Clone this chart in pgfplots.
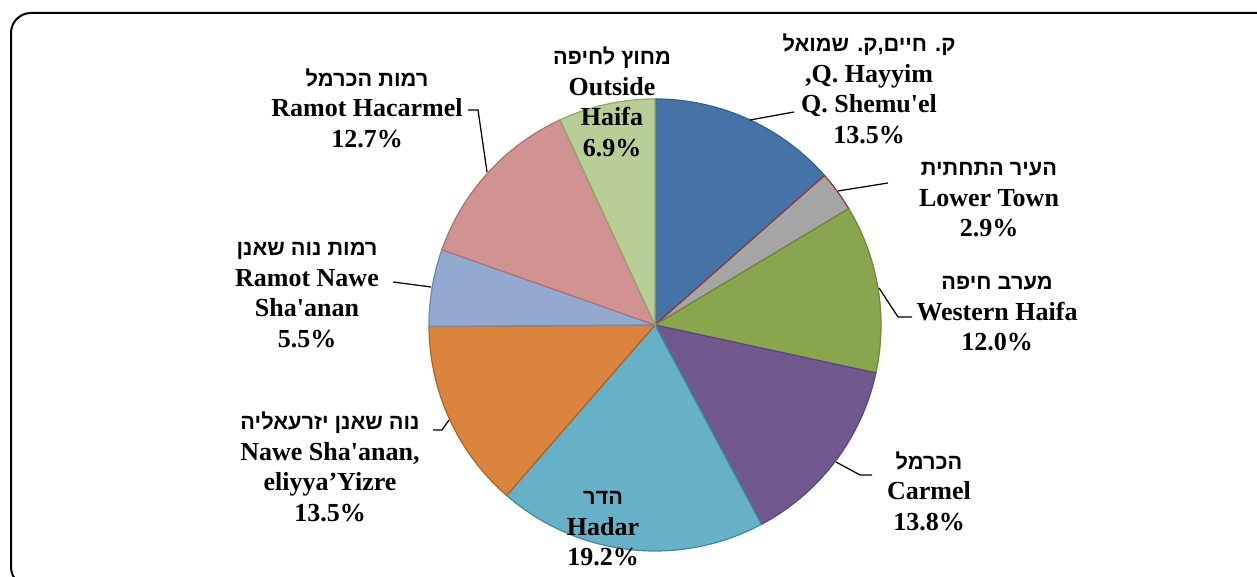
\documentclass[border=0pt]{standalone}
\usepackage{pgfplots}
\pgfplotsset{compat=1.18}
\usepackage{fontspec}
\setmainfont{Liberation Serif}[Ligatures=TeXOff]
\newfontfamily\hebfont[Script=Hebrew]{Liberation Sans}
\TeXXeTstate=1
\definecolor{cA}{HTML}{4673A7}
\definecolor{cB}{HTML}{A5A5A5}
\definecolor{cC}{HTML}{89A54E}
\definecolor{cD}{HTML}{71588F}
\definecolor{cE}{HTML}{66B1C8}
\definecolor{cF}{HTML}{DB843D}
\definecolor{cG}{HTML}{93A9CF}
\definecolor{cH}{HTML}{D19392}
\definecolor{cI}{HTML}{B9CD96}
\definecolor{bA}{HTML}{3A5F8C}
\definecolor{bB}{HTML}{8E3A3A}
\definecolor{bC}{HTML}{6E8A3A}
\definecolor{bD}{HTML}{5C4775}
\definecolor{bE}{HTML}{3F8BA4}
\definecolor{bF}{HTML}{B46322}
\definecolor{bG}{HTML}{7088B3}
\definecolor{bH}{HTML}{B07170}
\definecolor{bI}{HTML}{8FA86A}
\newcommand{\heb}[1]{{\hebfont\bfseries\fontsize{8.7}{12.2}\selectfont\beginR #1\endR}}
\tikzset{lbl/.style={font=\fontsize{10.4}{12.2}\selectfont\bfseries, align=center, inner sep=0pt}}
\begin{document}
\begin{tikzpicture}
\begin{axis}[x=0.4pt, y=0.4pt, xmin=0, xmax=1257, ymin=0, ymax=577,
  hide axis, clip=true]
% slice shares (%), clockwise from the top
\foreach \p/\c/\b [remember=\en as \st (initially 90)] in
  {13.5/cA/bA, 2.9/cB/bB, 12.0/cC/bC, 13.8/cD/bD, 19.2/cE/bE, 13.5/cF/bF, 5.5/cG/bG, 12.7/cH/bH, 6.9/cI/bI}{
  \pgfmathsetmacro\en{\st-3.6*\p}
  \edef\temp{\noexpand\addplot[fill=\c, draw=\b, line width=0.5pt, domain=\en:\st, samples=80, smooth]
    ({655+226*cos(x)},{252+226*sin(x)}) -- (axis cs:655,252) -- cycle;}
  \temp
}
% leader lines
\draw[line width=0.5pt] (axis cs:750,457) -- (axis cs:794,465);
\draw[line width=0.5pt] (axis cs:838,386) -- (axis cs:888,394);
\draw[line width=0.5pt] (axis cs:879,289) -- (axis cs:898,260) -- (axis cs:912,260);
\draw[line width=0.5pt] (axis cs:836,115) -- (axis cs:860,102) -- (axis cs:872,102);
\draw[line width=0.5pt] (axis cs:449,157) -- (axis cs:442,147) -- (axis cs:433,147);
\draw[line width=0.5pt] (axis cs:431,290) -- (axis cs:393,295);
\draw[line width=0.5pt] (axis cs:487,405) -- (axis cs:478,467) -- (axis cs:468,467);
% labels
\node[lbl] at (axis cs:869,488) {\heb{ק. חיים,ק. שמואל}\\,Q. Hayyim\\Q. Shemu'el\\13.5\%};
\node[lbl] at (axis cs:989,377) {\heb{העיר התחתית}\\Lower Town\\2.9\%};
\node[lbl] at (axis cs:997,263) {\heb{מערב חיפה}\\Western Haifa\\12.0\%};
\node[lbl] at (axis cs:929,86) {\heb{הכרמל}\\Carmel\\13.8\%};
\node[lbl] at (axis cs:603,48) {\heb{הדר}\\Hadar\\19.2\%};
\node[lbl] at (axis cs:330,110) {\heb{נוה שאנן יזרעאליה}\\Nawe Sha'anan,\\eliyya’Yizre\\13.5\%};
\node[lbl] at (axis cs:307,282) {\heb{רמות נוה שאנן}\\Ramot Nawe\\Sha'anan\\5.5\%};
\node[lbl] at (axis cs:367,469) {\heb{רמות הכרמל}\\Ramot Hacarmel\\12.7\%};
\node[lbl] at (axis cs:612,475) {\heb{מחוץ לחיפה}\\Outside\\Haifa\\6.9\%};
% chart frame (runs past the right and bottom edges, as in the reference)
\draw[line width=0.8pt, rounded corners=8pt] (axis cs:11,564) rectangle (axis cs:1280,-10);
\end{axis}
\pgfresetboundingbox
\useasboundingbox (current axis.south west) rectangle (current axis.north east);
\end{tikzpicture}
\end{document}
